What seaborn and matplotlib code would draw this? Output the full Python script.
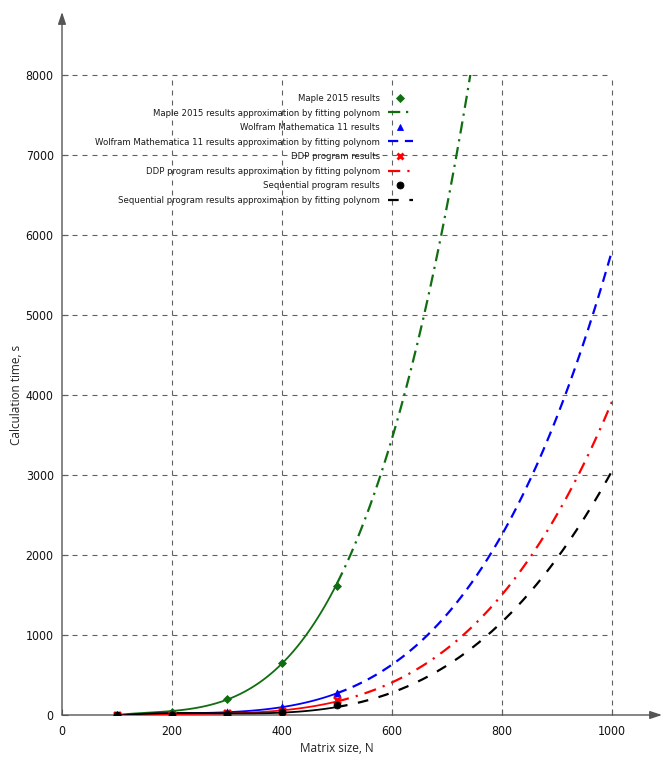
import numpy as np
import pandas as pd
import matplotlib
matplotlib.use("Agg")
import matplotlib.pyplot as plt
from matplotlib.lines import Line2D
import seaborn as sns

# Measured calculation times (s) for each matrix size N
sizes = [100, 200, 300, 400, 500]
maple_time = [3, 42, 200, 654, 1612]
wolfram_time = [1, 8, 35, 104, 279]
ddp_time = [0.5, 4, 20, 54, 187]
seq_time = [0.3, 3, 15, 40, 125]

# Points the approximating polynomials pass through beyond the measurements
maple_curve_n = [620, 660, 689, 718, 742]
maple_curve_t = [4000, 5000, 6000, 7000, 8000]
wolfram_curve_n = [666, 778, 856, 915, 963, 1000]
wolfram_curve_t = [1000, 2000, 3000, 4000, 5000, 5775]
ddp_curve_n = [733, 854, 937, 1000]
ddp_curve_t = [1000, 2000, 3000, 3904]
seq_curve_n = [784, 902, 944, 975, 1000]
seq_curve_t = [1000, 2000, 2440, 2800, 2980]

labels = [
    "Maple 2015 results",
    "Maple 2015 results approximation by fitting polynom",
    "Wolfram Mathematica 11 results",
    "Wolfram Mathematica 11 results approximation by fitting polynom",
    "DDP program results",
    "DDP program results approximation by fitting polynom",
    "Sequential program results",
    "Sequential program results approximation by fitting polynom",
]
x_ticks = [0, 200, 400, 600, 800, 1000]
y_ticks = [0, 1000, 2000, 3000, 4000, 5000, 6000, 7000, 8000]

sns.set_theme(style="white")
plt.rcParams["font.family"] = ["DejaVu Sans"]
plt.rcParams["font.stretch"] = "condensed"

fig = plt.figure(figsize=(6.62, 7.59), dpi=100)
ax = fig.add_axes([62 / 662, 44 / 759, 550 / 662, 640 / 759])
ax.set_xlim(0, 1000)
ax.set_ylim(0, 8000)

series = [
    ("#0f6e0f", "D", 4, maple_time, maple_curve_n, maple_curve_t, (0, (5.5, 2.6, 1.0, 2.6))),
    ("#0000ff", "^", 5, wolfram_time, wolfram_curve_n, wolfram_curve_t, (0, (4.6, 3.0))),
    ("#ff0000", "x", 5, ddp_time, ddp_curve_n, ddp_curve_t, (0, (5.5, 3.2, 1.0, 3.2))),
    ("#000000", "o", 5, seq_time, seq_curve_n, seq_curve_t, (0, (4.8, 4.8))),
]

handles = []
for color, marker, msize, times, cn, ct, dash in series:
    fit_n = np.array(sizes + cn, dtype=float)
    fit_t = np.array(times + ct, dtype=float)
    coeffs = np.polyfit(fit_n, fit_t, 4)
    n_in = np.linspace(sizes[0], sizes[-1], 120)
    n_out = np.linspace(sizes[-1], 1000, 300)
    inside = pd.DataFrame({"N": n_in, "t": np.polyval(coeffs, n_in)})
    outside = pd.DataFrame({"N": n_out, "t": np.polyval(coeffs, n_out)})
    sns.lineplot(data=inside, x="N", y="t", color=color, lw=1.3, ax=ax,
                 estimator=None, sort=False, zorder=4)
    sns.lineplot(data=outside, x="N", y="t", color=color, lw=1.6, ax=ax,
                 estimator=None, sort=False, linestyle=dash, zorder=4)
    pts = pd.DataFrame({"N": sizes, "t": times})
    mew = 2.0 if marker == "x" else 0.6
    sns.scatterplot(data=pts, x="N", y="t", color=color, marker=marker,
                    s=msize ** 2, ax=ax, edgecolor=color, linewidth=mew,
                    zorder=5, legend=False)
    handles.append(Line2D([], [], color=color, marker=marker, linestyle="none",
                          markersize=msize, markeredgecolor=color, markeredgewidth=mew))
    handles.append(Line2D([], [], color=color, lw=1.6, linestyle=dash))

# dashed grid inside the 0..1000 x 0..8000 frame
for v in x_ticks[1:]:
    ax.axvline(v, color="#606060", lw=0.8, linestyle=(0, (4.5, 4.5)), zorder=1, clip_on=False)
for v in y_ticks[1:]:
    ax.axhline(v, color="#606060", lw=0.8, linestyle=(0, (4.5, 4.5)), zorder=1, clip_on=False)

# axes drawn as arrows running past the data frame
for s in ax.spines.values():
    s.set_visible(False)
arrow = dict(arrowstyle="-|>,head_length=0.6,head_width=0.2",
             color="#555555", lw=1.0, shrinkA=0, shrinkB=0)
ax.annotate("", xy=(0, 703 / 640), xytext=(0, 0), xycoords="axes fraction",
            arrowprops=arrow, annotation_clip=False)
ax.annotate("", xy=(600 / 550, 0), xytext=(0, 0), xycoords="axes fraction",
            arrowprops=arrow, annotation_clip=False)

ax.set_xticks(x_ticks)
ax.set_yticks(y_ticks)
ax.set_xticklabels([str(v) for v in x_ticks])
ax.set_yticklabels([str(v) for v in y_ticks])
ax.tick_params(axis="both", which="both", direction="in", length=4, width=0.8,
               color="#555555", labelsize=8.8, labelcolor="#111111", pad=6)
ax.tick_params(axis="x", bottom=True, pad=7)
ax.tick_params(axis="y", left=True)

label_font = dict(family=["Open Sans", "DejaVu Sans"], fontstretch="normal",
                  fontsize=8.5, color="#222222", va="center")
ax.set_xlabel("Matrix size, N", **label_font)
ax.set_ylabel("Calculation time, s", **label_font)
ax.xaxis.set_label_coords(0.5, (715 - 748) / 640)
ax.yaxis.set_label_coords((17 - 62) / 550, 0.5)

leg = ax.legend(handles, labels, loc="upper right", bbox_to_anchor=(413 / 662, 1 - 94 / 759),
                bbox_transform=fig.transFigure, frameon=False, markerfirst=False,
                fontsize=6.8, handlelength=2.65, handletextpad=0.85, labelspacing=0.59,
                borderpad=0, borderaxespad=0)
for t in leg.get_texts():
    t.set_color("#1a1a1a")

fig.savefig("out.png", dpi=100)
